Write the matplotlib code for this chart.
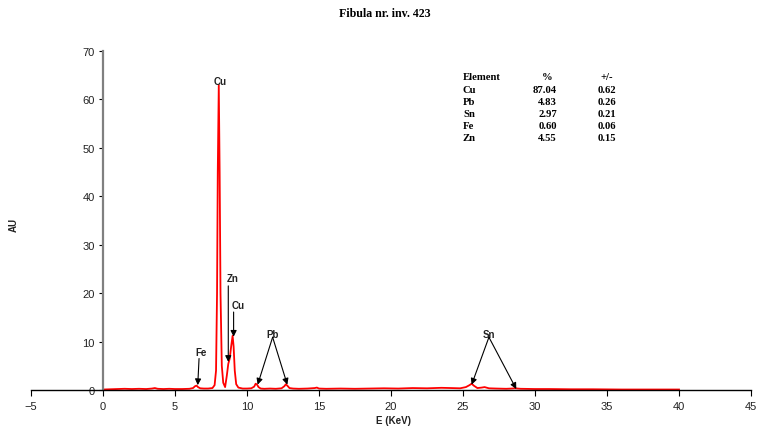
import numpy as np
import matplotlib
matplotlib.use("Agg")
import matplotlib.pyplot as plt

# spectrum (energy in keV, counts in AU)
energy_kev = [0.0, 0.5, 1.0, 1.5, 2.0, 2.5, 3.0, 3.4, 3.6, 3.8, 4.2, 4.6, 5.0, 5.5, 6.0, 6.25,
              6.4, 6.5, 6.6, 6.75, 7.0, 7.3, 7.6, 7.75, 7.85, 7.92, 7.97, 8.04, 8.1, 8.16,
              8.25, 8.35, 8.48, 8.6, 8.7, 8.8, 8.9, 9.0, 9.07, 9.15, 9.25, 9.4, 9.7, 10.0,
              10.3, 10.5, 10.6, 10.7, 10.8, 10.95, 11.2, 11.6, 12.0, 12.4, 12.6, 12.7, 12.8,
              12.95, 13.2, 13.6, 14.2, 14.7, 14.85, 15.0, 15.5, 16.5, 17.5, 18.5, 19.5, 20.5,
              21.5, 22.5, 23.5, 24.2, 24.8, 25.2, 25.45, 25.6, 25.75, 26.0, 26.3, 26.5, 26.8,
              27.3, 28.0, 28.4, 28.6, 29.0, 30.0, 31.0, 32.5, 34.0, 36.0, 38.0, 40.0]
counts = [0.1, 0.15, 0.2, 0.25, 0.2, 0.25, 0.2, 0.3, 0.4, 0.25, 0.2, 0.25, 0.2, 0.2, 0.25, 0.4,
          0.8, 0.9, 0.6, 0.35, 0.3, 0.3, 0.4, 1.0, 4.0, 20.0, 45.0, 63.0, 45.0, 20.0,
          5.0, 1.5, 0.6, 3.0, 5.4, 6.5, 9.0, 11.2, 9.0, 4.0, 1.2, 0.5, 0.3, 0.3,
          0.35, 0.7, 1.3, 1.1, 0.6, 0.3, 0.25, 0.3, 0.25, 0.35, 0.8, 1.2, 0.9,
          0.4, 0.3, 0.25, 0.3, 0.4, 0.5, 0.3, 0.25, 0.3, 0.25, 0.3, 0.35, 0.3,
          0.4, 0.35, 0.45, 0.4, 0.35, 0.6, 1.0, 1.3, 0.9, 0.4, 0.5, 0.6, 0.35,
          0.3, 0.25, 0.3, 0.35, 0.25, 0.2, 0.2, 0.15, 0.15, 0.1, 0.1, 0.1]

# composition table
elements = ["Cu", "Pb", "Sn", "Fe", "Zn"]
percent = ["87.04", "4.83", "2.97", "0.60", "4.55"]
error = ["0.62", "0.26", "0.21", "0.06", "0.15"]

# peak labels: (text, label x, label y, list of arrow tips, arrow start)
peak_labels = [
    ("Cu", 8.15, 63.8, [], None),
    ("Zn", 9.0, 23.1, [(8.70, 5.8)], (8.70, 21.5)),
    ("Cu", 9.4, 17.6, [(9.07, 11.0)], (9.07, 16.1)),
    ("Fe", 6.8, 7.9, [(6.58, 1.0)], (6.67, 6.5)),
    ("Pb", 11.8, 11.5, [(10.74, 1.1), (12.8, 1.1)], (11.78, 10.9)),
    ("Sn", 26.8, 11.6, [(25.6, 1.1), (28.7, 0.2)], (26.8, 10.9)),
]

fig = plt.figure(figsize=(7.63, 4.27), dpi=100)
ax = fig.add_axes([31 / 763, 1 - 391 / 427, 720 / 763, 339 / 427])

ax.plot(energy_kev, counts, color="red", lw=1.3)

ax.set_xlim(-5, 45)
ax.set_ylim(0, 70)
ax.set_xticks(np.arange(-5, 46, 5))
ax.set_yticks(np.arange(0, 71, 10))

ax.spines["top"].set_visible(False)
ax.spines["right"].set_visible(False)
ax.spines["left"].set_position(("data", 0))
ax.spines["left"].set_color("#808080")
ax.spines["left"].set_linewidth(1.6)
ax.spines["bottom"].set_color("black")
ax.spines["bottom"].set_linewidth(1.0)

ax.tick_params(axis="x", direction="out", length=4, width=0.8, pad=4,
               labelsize=8, labelcolor="#222222")
ax.tick_params(axis="y", direction="out", length=3, width=0.8, pad=3,
               labelsize=8, labelcolor="#222222")
for lab in ax.get_xticklabels() + ax.get_yticklabels():
    lab.set_fontfamily("Liberation Sans")

for text, lx, ly, tips, start in peak_labels:
    ax.text(lx, ly, text, ha="center", va="center", fontsize=7,
            fontweight="bold", family="Liberation Sans", color="#222222")
    for tip in tips:
        ax.annotate("", xy=tip, xytext=start,
                    arrowprops=dict(arrowstyle="-|>", color="black", lw=0.8,
                                    mutation_scale=9, shrinkA=0, shrinkB=0))

fig.text(385 / 763, 1 - 14 / 427, "Fibula nr. inv. 423", ha="center", va="center",
         fontsize=8.6, fontweight="bold", family="Liberation Serif")
fig.text(393 / 763, 1 - 421 / 427, "E (KeV)", ha="center", va="center",
         fontsize=7, fontweight="bold", family="Liberation Sans", color="#222222")
fig.text(14 / 763, 1 - 225 / 427, "AU", ha="center", va="center", rotation=90,
         fontsize=7, fontweight="bold", family="Liberation Sans", color="#222222")

tkw = dict(fontsize=7.7, fontweight="bold", family="Liberation Serif", va="center")
fig.text(463 / 763, 1 - 77 / 427, "Element", ha="left", **tkw)
fig.text(547 / 763, 1 - 77 / 427, "%", ha="center", **tkw)
fig.text(607 / 763, 1 - 77 / 427, "+/-", ha="center", **tkw)
for i, el in enumerate(elements):
    y = 1 - (90.5 + 12.1 * i) / 427
    fig.text(463 / 763, y, el, ha="left", **tkw)
    fig.text(557 / 763, y, percent[i], ha="right", **tkw)
    fig.text(616 / 763, y, error[i], ha="right", **tkw)

fig.savefig("out.png", dpi=100)
